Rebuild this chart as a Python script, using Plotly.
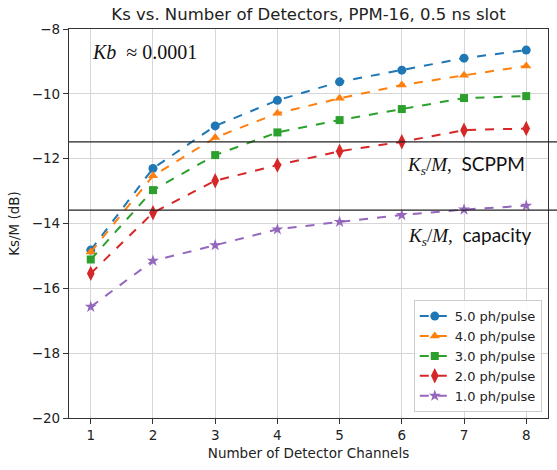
import plotly.graph_objects as go

channels = [1, 2, 3, 4, 5, 6, 7, 8]
ks_5 = [-14.82, -12.30, -10.99, -10.20, -9.63, -9.27, -8.90, -8.65]
ks_4 = [-14.88, -12.53, -11.35, -10.60, -10.14, -9.73, -9.43, -9.14]
ks_3 = [-15.11, -12.97, -11.89, -11.19, -10.81, -10.47, -10.13, -10.07]
ks_2 = [-15.54, -13.67, -12.68, -12.20, -11.77, -11.48, -11.12, -11.07]
ks_1 = [-16.57, -15.15, -14.67, -14.18, -13.95, -13.74, -13.57, -13.45]
series_names = ["5.0 ph/pulse", "4.0 ph/pulse", "3.0 ph/pulse", "2.0 ph/pulse", "1.0 ph/pulse"]
series_values = [ks_5, ks_4, ks_3, ks_2, ks_1]
colors = ["#1f77b4", "#ff7f0e", "#2ca02c", "#d62728", "#9467bd"]
symbols = ["circle", "triangle-up", "square", "diamond-tall", "star"]
sizes = [9, 9, 8, 11, 9]

scppm_level = -11.48
capacity_level = -13.59

y_ticks = [-20, -18, -16, -14, -12, -10, -8]

W, H = 557, 470

fig = go.Figure()
for name, vals, c, s, sz in zip(series_names, series_values, colors, symbols, sizes):
    fig.add_trace(go.Scatter(
        x=channels, y=vals, name=name, mode="lines+markers",
        line=dict(color=c, width=2, dash="dash"),
        marker=dict(color=c, symbol=s, size=sz, line=dict(width=0)),
    ))

for lvl in [scppm_level, capacity_level]:
    fig.add_shape(type="line", xref="paper", yref="y", x0=0, x1=1.03, y0=lvl, y1=lvl,
                  line=dict(color="#222222", width=1.2), layer="above")

serif = "Liberation Serif"
fig.add_annotation(xref="paper", yref="paper", x=0.044, y=0.941, xanchor="left", yanchor="middle",
                   showarrow=False,
                   text="<i>Kb</i>  ≈ 0.0001",
                   font=dict(family=serif, size=20, color="#111111"))
fig.add_annotation(xref="paper", yref="paper", x=0.956, y=0.650, xanchor="right", yanchor="middle",
                   showarrow=False,
                   text="<i>K<sub>s</sub></i>/<i>M</i>,<span style='font-family:Lato'>  SCPPM</span>",
                   font=dict(family=serif, size=19, color="#111111"))
fig.add_annotation(xref="paper", yref="paper", x=0.971, y=0.468, xanchor="right", yanchor="middle",
                   showarrow=False,
                   text="<i>K<sub>s</sub></i>/<i>M</i>,<span style='font-family:Lato'>  capacity</span>",
                   font=dict(family=serif, size=19, color="#111111"))

fig.update_layout(
    width=W, height=H,
    margin=dict(l=69, r=9, t=29, b=52, autoexpand=False),
    paper_bgcolor="white", plot_bgcolor="white",
    font=dict(family="DejaVu Sans", size=13, color="#222222"),
    title=dict(text="Ks vs. Number of Detectors, PPM-16, 0.5 ns slot",
               x=0.5, xref="paper", xanchor="center", y=1 - 14 / H, yref="container",
               yanchor="middle", automargin=False,
               font=dict(size=16.5, color="#222222")),
    showlegend=True,
    legend=dict(x=0.987, y=0.015, xanchor="right", yanchor="bottom",
                bgcolor="rgba(255,255,255,0.85)", bordercolor="#cccccc", borderwidth=1,
                font=dict(size=13, color="#222222")),
)
fig.update_xaxes(range=[0.65, 8.35], tickvals=channels, ticks="outside", ticklen=5,
                 tickcolor="#333333", showline=True, linecolor="#333333", linewidth=1.3,
                 mirror=True, showgrid=True, gridcolor="#d6d6d6", gridwidth=1, zeroline=False,
                 automargin=False,
                 title=dict(text="Number of Detector Channels", standoff=6, font=dict(size=13.5)),
                 tickfont=dict(size=13.5))
fig.update_yaxes(range=[-20, -8], tickvals=y_ticks, ticks="outside", ticklen=5,
                 tickcolor="#333333", showline=True, linecolor="#333333", linewidth=1.3,
                 mirror=True, showgrid=True, gridcolor="#d6d6d6", gridwidth=1, zeroline=False,
                 automargin=False,
                 title=dict(text="Ks/M (dB)", standoff=8, font=dict(size=13.5)),
                 tickfont=dict(size=13.5))

fig.write_html("out.html", config={"displayModeBar": False},
               post_script="document.body.style.margin='0';")
